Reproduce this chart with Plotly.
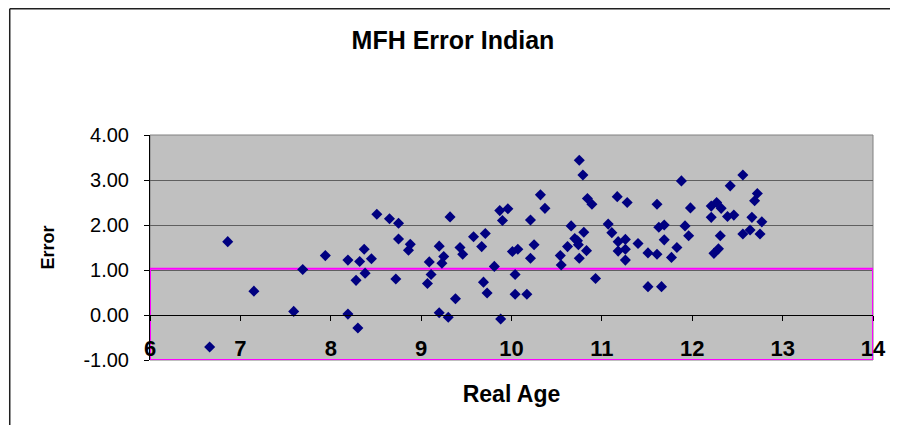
import plotly.graph_objects as go

# --- data ---
real_age = [6.66, 6.86, 7.15, 7.59, 7.69, 7.94, 8.19, 8.19, 8.28, 8.30,
            8.32, 8.37, 8.38, 8.45, 8.51, 8.65, 8.75, 8.75, 8.72, 8.88,
            8.86, 9.07, 9.09, 9.11, 9.20, 9.25, 9.23, 9.20, 9.30, 9.32,
            9.38, 9.43, 9.46, 9.58, 9.71, 9.67, 9.69, 9.73, 9.81, 9.88,
            9.87, 9.96, 9.90, 10.01, 10.07, 10.04, 10.04, 10.17, 10.21, 10.25,
            10.21, 10.32, 10.37, 10.54, 10.55, 10.66, 10.62, 10.70, 10.74, 10.73,
            10.80, 10.83, 10.75, 10.75, 10.79, 10.84, 10.89, 10.93, 11.17, 11.28,
            11.07, 11.11, 11.18, 11.26, 11.18, 11.26, 11.26, 11.40, 11.51, 11.61,
            11.61, 11.63, 11.69, 11.69, 11.51, 11.66, 11.88, 11.98, 11.92, 11.96,
            11.83, 11.77, 12.21, 12.27, 12.32, 12.21, 12.39, 12.46, 12.42, 12.56,
            12.72, 12.69, 12.66, 12.77, 12.31, 12.56, 12.64, 12.75, 12.24, 12.29]
error = [-0.71, 1.63, 0.53, 0.08, 1.01, 1.32, 1.22, 0.02, 0.77, -0.29,
         1.19, 1.46, 0.93, 1.25, 2.24, 2.14, 2.04, 1.69, 0.80, 1.57,
         1.44, 0.70, 1.18, 0.90, 1.53, 1.30, 1.15, 0.05, -0.05, 2.18,
         0.36, 1.50, 1.35, 1.74, 1.81, 1.52, 0.73, 0.49, 1.08, -0.09,
         2.32, 2.36, 2.10, 1.41, 1.46, 0.90, 0.46, 0.46, 1.26, 1.56,
         2.11, 2.67, 2.37, 1.32, 1.11, 1.98, 1.52, 1.70, 1.56, 1.65,
         1.84, 1.43, 1.26, 3.44, 3.11, 2.59, 2.46, 0.81, 2.63, 2.50,
         2.02, 1.83, 1.63, 1.68, 1.42, 1.46, 1.22, 1.59, 1.38, 1.35,
         2.46, 1.95, 2.00, 1.67, 0.63, 0.63, 2.98, 2.38, 1.98, 1.76,
         1.50, 1.28, 2.42, 2.50, 2.37, 2.17, 2.19, 2.22, 2.87, 3.11,
         2.70, 2.54, 2.17, 2.07, 1.76, 1.80, 1.89, 1.80, 1.37, 1.47]

x_range = [6, 14]
y_range = [-1, 4]
y_ticks = [-1, 0, 1, 2, 3, 4]
y_ticktext = ["-1.00", "0.00", "1.00", "2.00", "3.00", "4.00"]
highlight_band = [-1, 1.03]   # magenta box drawn over the chart

FONT = "Arial, Liberation Sans, sans-serif"

# the page body adds an 8px margin, so the figure is sized to fit inside it
W, H = 890, 417

fig = go.Figure()
fig.add_trace(go.Scatter(
    x=real_age, y=error, mode="markers",
    marker=dict(symbol="diamond", size=8.5, color="#000080", line=dict(width=0)),
    showlegend=False,
))

# plot area frame (grey top/right)
fig.add_shape(type="rect", xref="paper", yref="paper", x0=0, x1=1, y0=0, y1=1,
              line=dict(color="#808080", width=1), layer="between")
# magenta box
fig.add_shape(type="rect", xref="x", yref="y",
              x0=x_range[0], x1=x_range[1], y0=highlight_band[0], y1=highlight_band[1],
              line=dict(color="#FF00FF", width=2), layer="between")
# outer chart border, only top and left edges are in view
border = dict(color="#202020", width=1.5)
fig.add_shape(type="line", xref="paper", yref="paper",
              x0=-0.194, x1=1.2, y0=1.561, y1=1.561, line=border, layer="above")
fig.add_shape(type="line", xref="paper", yref="paper",
              x0=-0.194, x1=-0.194, y0=-0.5, y1=1.561, line=border, layer="above")

fig.update_layout(
    width=W, height=H,
    margin=dict(l=142, r=22, t=127, b=65),
    paper_bgcolor="white", plot_bgcolor="#C0C0C0",
    font=dict(family=FONT, color="black"),
    title=dict(text="<b>MFH Error Indian</b>", x=0.5, xanchor="center",
               y=1 - 32 / H, yanchor="middle", font=dict(size=25)),
    xaxis=dict(
        range=x_range, dtick=1, tick0=6, showgrid=False, zeroline=False,
        anchor="free", position=0.2, showline=True, linecolor="black", linewidth=1,
        ticks="outside", ticklen=5, tickcolor="black",
        tickfont=dict(size=22, family=FONT), tickprefix="<b>", ticksuffix="</b>",
        ticklabelstandoff=9,
        title=dict(text="<b>Real Age</b>", font=dict(size=23), standoff=25),
    ),
    yaxis=dict(
        range=y_range, tickvals=y_ticks, ticktext=y_ticktext,
        showgrid=True, gridcolor="#5F5F5F", gridwidth=1,
        zeroline=True, zerolinecolor="black", zerolinewidth=1,
        showline=True, linecolor="black", linewidth=1,
        ticks="outside", ticklen=5, tickcolor="black",
        tickfont=dict(size=20), ticklabelstandoff=11,
        title=dict(text="<b>Error</b>", font=dict(size=18), standoff=24),
    ),
)

fig.write_html("out.html")
